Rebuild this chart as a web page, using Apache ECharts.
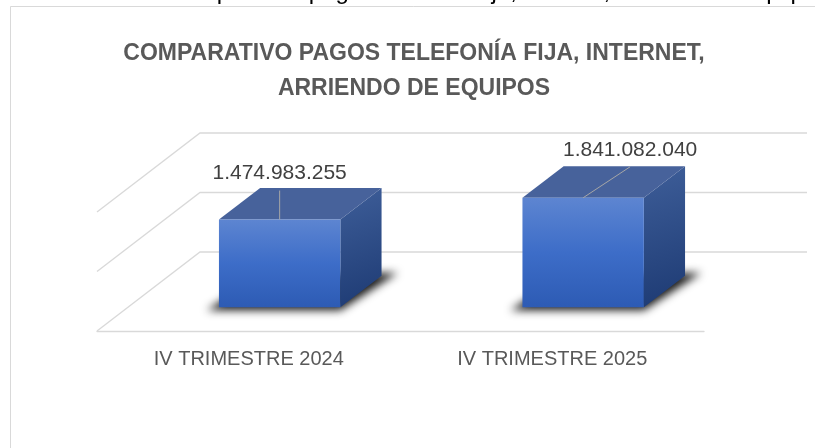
<!DOCTYPE html>
<html>
<head>
<meta charset="utf-8">
<script src="https://cdn.jsdelivr.net/npm/echarts@6/dist/echarts.min.js"></script>
<style>
html,body{margin:0;padding:0;background:#fff;}
#chart{width:815px;height:448px;}
</style>
</head>
<body>
<div id="chart"></div>
<script>
// ---- data ----
const categories = ['IV TRIMESTRE 2024', 'IV TRIMESTRE 2025'];
const values = [1474983255, 1841082040];
const axisTicks = [0, 1000000000, 2000000000];
const titleText = 'COMPARATIVO PAGOS TELEFONÍA FIJA, INTERNET,\nARRIENDO DE EQUIPOS';
const captionText = 'Comparativo pagos telefonía fija, internet, arriendo de equipos';

// ---- layout / style (not data) ----
const DEPTH = [103, -79];          // oblique depth vector of the floor
const BAR_DEPTH = [0.3, 0.7];      // bar occupies this fraction of depth
const BAR_WIDTH = 0.4;             // fraction of band
const LABEL_OFFSETS = [[0, -46], [47, -48]];
const FONT = 'Liberation Sans, Arial, sans-serif';
const SHIFT = 3000;                // draw shadow caster off-screen, keep only its blur

function fmt(v) {
  return String(Math.round(v)).replace(/\B(?=(\d{3})+(?!\d))/g, '.');
}

const chart = echarts.init(document.getElementById('chart'), null, {renderer: 'canvas'});

const option = {
  animation: false,
  backgroundColor: '#ffffff',
  textStyle: {fontFamily: FONT},
  title: {
    text: titleText,
    left: 409,
    top: 31,
    textAlign: 'center',
    textStyle: {fontFamily: FONT, fontSize: 23, fontWeight: 'bold', color: '#595959', lineHeight: 35}
  },
  graphic: [
    {type: 'rect', silent: true, z: -10,
     shape: {x: 10.5, y: 6.5, width: 1000, height: 1000},
     style: {fill: 'none', stroke: '#d9d9d9', lineWidth: 1}},
    {type: 'text', silent: true, x: 166, y: 4,
     style: {text: captionText, font: '24px ' + FONT, fill: '#000', verticalAlign: 'bottom', align: 'left'}}
  ],
  grid: {left: 97, right: 111, top: 212, bottom: 117, containLabel: false},
  xAxis: {
    type: 'category',
    data: categories,
    axisLine: {show: true, lineStyle: {color: '#d9d9d9', width: 1.3}},
    axisTick: {show: false},
    axisLabel: {color: '#595959', fontSize: 20, margin: 18, fontFamily: FONT},
    splitLine: {show: false}
  },
  yAxis: {
    type: 'value', min: 0, max: 2000000000, interval: 1000000000,
    show: false
  },
  series: [
    {
      type: 'custom',
      name: 'walls',
      clip: false,
      silent: true,
      z: 1,
      data: axisTicks.map(v => [0, v]),
      encode: {x: 0, y: 1},
      renderItem: function (params, api) {
        const cs = params.coordSys;
        const y = api.coord([0, api.value(1)])[1];
        return {
          type: 'polyline',
          shape: {points: [
            [cs.x, y],
            [cs.x + DEPTH[0], y + DEPTH[1]],
            [cs.x + cs.width + DEPTH[0], y + DEPTH[1]]
          ]},
          style: {stroke: '#d9d9d9', lineWidth: 1.3, fill: null}
        };
      }
    },
    {
      type: 'custom',
      name: 'bars',
      clip: false,
      z: 5,
      data: values.map((v, i) => [i, v]),
      encode: {x: 0, y: 1},
      renderItem: function (params, api) {
        const idx = api.value(0);
        const val = api.value(1);
        const base = api.coord([idx, 0]);
        const top = api.coord([idx, val]);
        const band = api.size([1, 0])[0];
        const w = band * BAR_WIDTH;
        const f0 = BAR_DEPTH[0], f1 = BAR_DEPTH[1];
        const x0 = base[0] - w / 2 + f0 * DEPTH[0];
        const x1 = x0 + w;
        const yb = base[1] + f0 * DEPTH[1];
        const yt = top[1] + f0 * DEPTH[1];
        const ddx = (f1 - f0) * DEPTH[0];
        const ddy = (f1 - f0) * DEPTH[1];
        const xc = (x0 + x1) / 2;
        const off = LABEL_OFFSETS[idx];
        const lx = xc + off[0], ly = yt + off[1];
        return {
          type: 'group',
          children: [
            {type: 'polygon',
             shape: {points: [[x0 - 12 + SHIFT, yb + 3], [x1 + SHIFT, yb + 3], [x1 + ddx + 16 + SHIFT, yb + ddy - 3], [x0 + ddx + SHIFT, yb + ddy]]},
             style: {fill: '#000', shadowBlur: 9, shadowColor: 'rgba(0,0,0,0.9)', shadowOffsetX: -SHIFT, shadowOffsetY: 0}},
            {type: 'polygon',
             shape: {points: [[x1, yt], [x1 + ddx, yt + ddy], [x1 + ddx, yb + ddy], [x1, yb]]},
             style: {fill: new echarts.graphic.LinearGradient(0, 0, 1, 1, [
               {offset: 0, color: '#3e5e99'}, {offset: 1, color: '#1d3a73'}])}},
            {type: 'polygon',
             shape: {points: [[x0, yt], [x1, yt], [x1 + ddx, yt + ddy], [x0 + ddx, yt + ddy]]},
             style: {fill: '#47629b'}},
            {type: 'rect',
             shape: {x: x0, y: yt, width: w, height: yb - yt},
             style: {fill: new echarts.graphic.LinearGradient(0, 0, 0, 1, [
               {offset: 0, color: '#5d85d1'}, {offset: 0.5, color: '#3d6dc8'}, {offset: 1, color: '#2d5bb4'}])}},
            {type: 'line',
             shape: {x1: lx, y1: ly + 17, x2: xc, y2: yt},
             style: {stroke: '#a6a6a6', lineWidth: 1}},
            {type: 'text',
             x: lx, y: ly,
             style: {text: fmt(val), font: '21px ' + FONT, fill: '#404040', align: 'center', verticalAlign: 'middle'}}
          ]
        };
      }
    }
  ]
};
chart.setOption(option);
</script>
</body>
</html>
